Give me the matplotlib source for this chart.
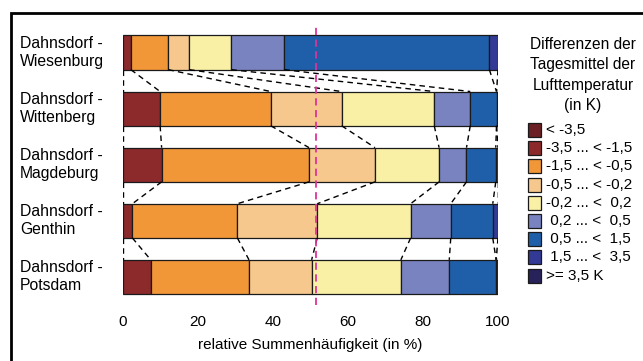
import numpy as np
import matplotlib.pyplot as plt
from matplotlib.patches import Rectangle

plt.rcParams['font.family'] = ['Liberation Sans', 'DejaVu Sans']

stations = ["Dahnsdorf -\nWiesenburg", "Dahnsdorf -\nWittenberg", "Dahnsdorf -\nMagdeburg",
            "Dahnsdorf -\nGenthin", "Dahnsdorf -\nPotsdam"]
classes = ["< -3,5", "-3,5 ... < -1,5", "-1,5 ... < -0,5", "-0,5 ... < -0,2", "-0,2 ... <  0,2",
           " 0,2 ... <  0,5", " 0,5 ... <  1,5", " 1,5 ... <  3,5", ">= 3,5 K"]
colors = ["#6B1E24", "#8C292B", "#F29737", "#F6C88D", "#FAF0A5",
          "#7883C0", "#1F5FAA", "#333A96", "#27225A"]

# share of days per class (%)
wiesenburg = [0, 2.1, 10.0, 5.6, 11.2, 14.1, 54.7, 2.3, 0]
wittenberg = [0, 9.9, 29.5, 18.9, 24.7, 9.6, 7.0, 0, 0.4]
magdeburg = [0, 10.3, 39.3, 17.6, 17.1, 7.3, 7.8, 0.6, 0]
genthin = [0, 2.5, 28.0, 21.3, 24.9, 10.7, 11.2, 1.4, 0]
potsdam = [0, 7.4, 26.2, 16.7, 23.8, 12.9, 12.5, 0, 0.5]
values = np.array([wiesenburg, wittenberg, magdeburg, genthin, potsdam])

median_line = 51.5
xticks = [0, 20, 40, 60, 80, 100]

fig = plt.figure(figsize=(6.43, 3.61), dpi=100)
ax = fig.add_axes([123 / 643, 1 - 305 / 361, 375 / 643, 280.5 / 361])

bar_h = 0.61
ypos = np.arange(len(stations))
cum = np.hstack([np.zeros((len(stations), 1)), np.cumsum(values, axis=1)])

for i in range(len(stations)):
    for k in range(len(classes)):
        if values[i, k] > 0:
            ax.barh(ypos[i], values[i, k], left=cum[i, k], height=bar_h, color=colors[k],
                    edgecolor="#1a1a1a", linewidth=0.9)

# dashed connectors between neighbouring bars
for i in range(len(stations) - 1):
    for k in range(len(classes) + 1):
        if k > 0 and k < len(classes) and values[i, k - 1] == 0 and values[i + 1, k - 1] == 0:
            continue
        ax.plot([cum[i, k], cum[i + 1, k]], [ypos[i] + bar_h / 2, ypos[i + 1] - bar_h / 2],
                color="black", linestyle=(0, (4, 3)), linewidth=1.0, zorder=1)

ax.axvline(median_line, color="#DD3399", linestyle=(0, (4, 2.5)), linewidth=1.3, zorder=5)

ax.set_xlim(0, 100)
ax.set_ylim(len(stations) - 0.5, -0.5)
ax.set_xticks(xticks)
ax.set_yticks([])
ax.tick_params(axis="x", length=0, labelsize=11, pad=7.5)
for s in ax.spines.values():
    s.set_visible(False)
ax.set_xlabel("relative Summenhäufigkeit (in %)", fontsize=11, labelpad=6)

for i, name in enumerate(stations):
    ax.text(-103 / 375 * 100, ypos[i], name, fontsize=11.3, ha="left", va="center",
            linespacing=1.25)

# legend
fig.text(583 / 643, 1 - 75 / 361, "Differenzen der\nTagesmittel der\nLufttemperatur\n(in K)",
         ha="center", va="center", fontsize=11.2, linespacing=1.45)
for k, lab in enumerate(classes):
    yc = 130 + k * 18.2
    fig.add_artist(Rectangle((528 / 643, 1 - (yc + 7) / 361), 13 / 643, 14 / 361,
                             facecolor=colors[k], edgecolor="#1a1a1a", linewidth=0.9))
    fig.text(546 / 643, 1 - yc / 361, lab, ha="left", va="center", fontsize=11)

# frame around the figure
fig.add_artist(Rectangle((11 / 643, -0.1), 1.0, (361 - 12.5) / 361 + 0.1, fill=False,
                         edgecolor="black", linewidth=2))

fig.savefig("out.png", dpi=100)
